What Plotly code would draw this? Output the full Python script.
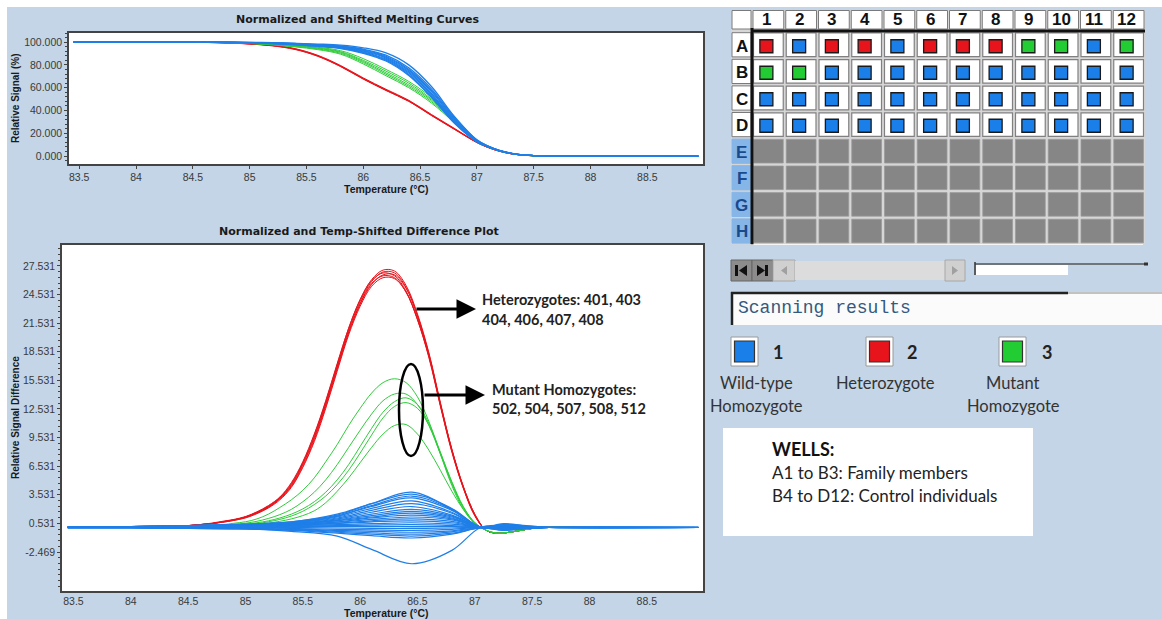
import plotly.graph_objects as go

W, H = 1162, 619
BG = '#c3d5e6'
BLUE = '#1f7fe8'
RED = '#e8141c'
GREEN = '#2ecc3a'


def X(px):
    return px / W


def Y(py):
    return 1 - py / H


# ---------------- data: normalized melting curves (top) ----------------
T_MELT = [83.45, 84.5, 84.8, 85.0, 85.2, 85.4, 85.6, 85.8, 86.0, 86.2, 86.4,
          86.6, 86.8, 87.0, 87.1, 87.2, 87.3, 87.4, 87.5, 87.6]
T_MELT_BLUE = T_MELT + [88.95]

MELT_RED = [
    [100, 99.8, 99.3, 98.5, 97.0, 94.0, 88.0, 79.0, 68.0, 58.0, 48.5, 36.0, 24.0, 12.0, 7.5, 4.2, 2.0, 0.8, 0.2, 0.0],
    [100, 99.8, 99.2, 98.3, 96.7, 93.5, 87.5, 78.5, 67.5, 57.5, 48.0, 35.5, 23.5, 11.8, 7.4, 4.1, 2.0, 0.8, 0.2, 0.0],
    [100, 99.9, 99.4, 98.6, 97.2, 94.3, 88.4, 79.5, 68.6, 58.6, 49.0, 36.5, 24.4, 12.2, 7.6, 4.3, 2.1, 0.8, 0.2, 0.0],
    [100, 99.8, 99.3, 98.4, 96.9, 93.8, 87.8, 78.8, 67.8, 57.8, 48.2, 35.8, 23.8, 11.9, 7.5, 4.2, 2.0, 0.8, 0.2, 0.0],
]
MELT_GREEN = [
    [100, 99.9, 99.7, 99.2, 98.4, 97.2, 95.4, 92.5, 85.5, 76.0, 65.5, 51.5, 33.0, 13.5, 8.2, 4.6, 2.3, 0.9, 0.2, 0.0],
    [100, 99.9, 99.6, 99.1, 98.2, 96.8, 94.9, 91.6, 84.0, 74.5, 64.0, 50.0, 32.0, 13.2, 8.1, 4.5, 2.2, 0.9, 0.2, 0.0],
    [100, 99.9, 99.6, 99.0, 98.0, 96.5, 94.5, 91.0, 83.0, 73.0, 62.5, 49.0, 31.0, 13.0, 8.0, 4.5, 2.2, 0.9, 0.2, 0.0],
    [100, 99.9, 99.5, 98.9, 97.8, 96.2, 94.0, 90.2, 82.0, 71.8, 61.2, 47.8, 30.2, 12.8, 7.9, 4.4, 2.2, 0.9, 0.2, 0.0],
    [100, 99.9, 99.5, 98.8, 97.6, 95.8, 93.4, 89.4, 80.8, 70.5, 60.0, 46.5, 29.5, 12.5, 7.8, 4.4, 2.1, 0.9, 0.2, 0.0],
]
MELT_BLUE = [
    [100, 100, 99.9, 99.8, 99.5, 99.0, 98.3, 97.3, 95.0, 90.5, 80.0, 61.0, 35.0, 14.2, 8.7, 4.9, 2.5, 1.0, 0.4, 0.0, 0.0],
    [100, 100, 99.9, 99.7, 99.3, 98.7, 97.8, 96.6, 93.8, 88.5, 77.5, 59.0, 34.0, 14.0, 8.6, 4.8, 2.4, 1.0, 0.4, 0.0, 0.0],
    [100, 100, 99.9, 99.6, 99.2, 98.5, 97.5, 96.2, 93.2, 87.6, 76.2, 57.6, 33.0, 13.7, 8.5, 4.8, 2.4, 1.0, 0.4, 0.0, 0.0],
    [100, 100, 99.8, 99.6, 99.1, 98.4, 97.3, 95.9, 92.7, 86.9, 75.2, 56.5, 32.2, 13.4, 8.4, 4.7, 2.4, 1.0, 0.4, 0.0, 0.0],
    [100, 100, 99.8, 99.5, 99.0, 98.2, 97.0, 95.5, 92.0, 86.0, 74.0, 55.0, 31.0, 13.0, 8.3, 4.7, 2.4, 1.0, 0.4, 0.0, 0.0],
    [100, 100, 99.8, 99.4, 98.9, 98.0, 96.7, 95.1, 91.4, 85.1, 72.8, 53.8, 30.3, 12.8, 8.2, 4.6, 2.3, 1.0, 0.4, 0.0, 0.0],
    [100, 100, 99.7, 99.4, 98.8, 97.8, 96.4, 94.7, 90.8, 84.2, 71.6, 52.5, 29.6, 12.6, 8.1, 4.6, 2.3, 1.0, 0.4, 0.0, 0.0],
    [100, 100, 99.7, 99.3, 98.7, 97.7, 96.2, 94.3, 90.2, 83.4, 70.6, 51.4, 29.0, 12.4, 8.0, 4.5, 2.3, 1.0, 0.4, 0.0, 0.0],
]

# ---------------- data: difference plot (bottom) ----------------
T_DIFF_RG = [83.45, 84.0, 84.5, 84.6, 84.7, 84.8, 84.9, 85.0, 85.1, 85.2, 85.3, 85.4,
             85.5, 85.6, 85.7, 85.8, 85.9, 86.0, 86.1, 86.2, 86.3, 86.4, 86.5, 86.6,
             86.7, 86.8, 86.9, 87.0, 87.1, 87.2, 87.3, 87.4, 87.5, 87.6, 88.0]
DIFF_RED = [
    [0.1, 0.15, 0.3, 0.4, 0.5, 0.7, 0.9, 1.2, 1.7, 2.3, 3.2, 4.6, 6.8, 9.6, 13.1, 17.0, 20.8, 23.8, 25.9, 26.9, 26.8, 25.3, 22.3, 18.2, 13.0, 8.2, 4.3, 1.4, -0.2, -0.5, -0.4, -0.2, 0.0, 0.1, 0.1],
    [0.1, 0.15, 0.3, 0.4, 0.5, 0.65, 0.85, 1.15, 1.6, 2.2, 3.1, 4.4, 6.5, 9.3, 12.8, 16.7, 20.5, 23.5, 25.6, 26.6, 26.6, 25.2, 22.3, 18.3, 13.1, 8.3, 4.4, 1.5, -0.2, -0.5, -0.4, -0.2, 0.0, 0.1, 0.1],
    [0.1, 0.15, 0.3, 0.4, 0.55, 0.75, 0.95, 1.25, 1.75, 2.4, 3.3, 4.8, 7.0, 9.9, 13.4, 17.3, 21.0, 24.0, 26.0, 26.8, 26.5, 24.9, 21.9, 17.9, 12.8, 8.0, 4.2, 1.3, -0.2, -0.5, -0.4, -0.2, 0.0, 0.1, 0.1],
    [0.1, 0.15, 0.3, 0.4, 0.5, 0.7, 0.9, 1.2, 1.65, 2.25, 3.15, 4.5, 6.7, 9.5, 13.0, 16.9, 20.6, 23.6, 25.7, 26.5, 26.3, 24.8, 21.9, 18.0, 12.9, 8.1, 4.3, 1.4, -0.2, -0.5, -0.4, -0.2, 0.0, 0.1, 0.1],
    [0.1, 0.15, 0.3, 0.4, 0.5, 0.7, 0.9, 1.2, 1.7, 2.35, 3.25, 4.7, 6.9, 9.8, 13.3, 17.2, 21.0, 24.0, 26.1, 27.1, 27.0, 25.5, 22.5, 18.4, 13.2, 8.3, 4.4, 1.5, -0.2, -0.5, -0.4, -0.2, 0.0, 0.1, 0.1],
    [0.1, 0.15, 0.3, 0.4, 0.5, 0.65, 0.85, 1.1, 1.55, 2.15, 3.0, 4.3, 6.4, 9.1, 12.6, 16.5, 20.3, 23.3, 25.4, 26.3, 26.2, 24.8, 22.0, 18.1, 13.0, 8.2, 4.3, 1.4, -0.2, -0.5, -0.4, -0.2, 0.0, 0.1, 0.1],
]
DIFF_GREEN = [
    [0.1, 0.15, 0.25, 0.3, 0.35, 0.4, 0.55, 0.7, 1.0, 1.5, 2.2, 3.0, 4.0, 5.3, 7.0, 8.8, 10.8, 12.6, 14.2, 15.3, 15.7, 15.3, 13.8, 11.2, 7.8, 4.5, 2.0, 0.5, -0.2, -0.5, -0.4, -0.2, 0.0, 0.1, 0.1],
    [0.1, 0.15, 0.2, 0.25, 0.3, 0.35, 0.45, 0.55, 0.75, 1.05, 1.45, 2.0, 2.8, 3.8, 5.1, 6.7, 8.5, 10.3, 12.0, 13.4, 14.1, 14.1, 13.0, 10.8, 7.8, 4.7, 2.2, 0.6, -0.2, -0.5, -0.4, -0.2, 0.0, 0.1, 0.1],
    [0.1, 0.15, 0.2, 0.25, 0.28, 0.32, 0.38, 0.45, 0.6, 0.8, 1.1, 1.5, 2.05, 2.8, 3.8, 5.1, 6.7, 8.6, 10.5, 12.2, 13.3, 13.7, 13.0, 11.0, 8.0, 4.8, 2.2, 0.6, -0.2, -0.5, -0.4, -0.2, 0.0, 0.1, 0.1],
    [0.1, 0.15, 0.2, 0.25, 0.28, 0.3, 0.35, 0.4, 0.5, 0.7, 0.95, 1.3, 1.8, 2.5, 3.4, 4.6, 6.1, 7.9, 9.8, 11.6, 12.8, 13.2, 12.6, 10.8, 7.9, 4.9, 2.3, 0.6, -0.2, -0.5, -0.4, -0.2, 0.0, 0.1, 0.1],
    [0.1, 0.15, 0.2, 0.22, 0.24, 0.26, 0.28, 0.3, 0.4, 0.55, 0.75, 1.0, 1.35, 1.85, 2.7, 3.9, 5.3, 6.9, 8.5, 9.9, 10.8, 10.9, 9.9, 8.2, 6.1, 3.9, 2.0, 0.6, -0.2, -0.5, -0.4, -0.2, 0.0, 0.1, 0.1],
]
T_DIFF_BLUE = [83.45, 84.0, 84.5, 85.0, 85.4, 85.8, 86.1, 86.45, 86.8, 87.05, 87.25, 87.45, 87.65, 88.95]
DIFF_BLUE = [
    [0.2, 0.2, 0.3, 0.45, 0.7, 1.4, 2.6, 3.8, 2.0, 0.15, 0.5, 0.3, 0.15, 0.15],
    [0.15, 0.2, 0.3, 0.45, 0.7, 1.5, 2.6, 3.6, 2.1, 0.15, 0.45, 0.25, 0.15, 0.15],
    [0.15, 0.2, 0.3, 0.4, 0.65, 1.3, 2.4, 3.4, 2.0, 0.15, 0.4, 0.25, 0.1, 0.1],
    [0.2, 0.2, 0.3, 0.4, 0.6, 1.3, 2.3, 3.2, 1.9, 0.15, 0.4, 0.2, 0.1, 0.1],
    [0.2, 0.2, 0.3, 0.4, 0.6, 1.2, 2.1, 2.9, 1.7, 0.15, 0.35, 0.2, 0.1, 0.1],
    [0.15, 0.2, 0.25, 0.35, 0.55, 1.1, 1.9, 2.6, 1.6, 0.15, 0.3, 0.2, 0.1, 0.1],
    [0.15, 0.2, 0.25, 0.35, 0.5, 1.0, 1.7, 2.3, 1.4, 0.15, 0.3, 0.15, 0.1, 0.1],
    [0.1, 0.15, 0.2, 0.3, 0.5, 0.9, 1.5, 2.0, 1.3, 0.15, 0.25, 0.15, 0.1, 0.1],
    [0.1, 0.15, 0.2, 0.3, 0.45, 0.85, 1.35, 1.8, 1.2, 0.15, 0.25, 0.15, 0.1, 0.1],
    [0.15, 0.2, 0.25, 0.3, 0.45, 0.8, 1.2, 1.6, 1.1, 0.15, 0.2, 0.1, 0.1, 0.1],
    [0.15, 0.2, 0.2, 0.3, 0.4, 0.7, 1.1, 1.4, 1.0, 0.15, 0.2, 0.1, 0.1, 0.1],
    [0.1, 0.15, 0.2, 0.3, 0.4, 0.65, 0.95, 1.2, 0.9, 0.15, 0.15, 0.1, 0.1, 0.1],
    [0.1, 0.15, 0.2, 0.25, 0.35, 0.55, 0.8, 1.0, 0.75, 0.15, 0.15, 0.1, 0.1, 0.1],
    [0.1, 0.15, 0.2, 0.25, 0.35, 0.5, 0.7, 0.8, 0.6, 0.15, 0.1, 0.1, 0.1, 0.1],
    [0.1, 0.1, 0.15, 0.2, 0.3, 0.4, 0.5, 0.6, 0.45, 0.15, 0.05, 0.1, 0.1, 0.1],
    [0.1, 0.1, 0.15, 0.2, 0.25, 0.3, 0.35, 0.4, 0.3, 0.15, 0.0, 0.05, 0.1, 0.1],
    [0.15, 0.15, 0.2, 0.2, 0.2, 0.2, 0.2, 0.2, 0.2, 0.15, 0.0, 0.05, 0.1, 0.1],
    [0.1, 0.1, 0.1, 0.1, 0.1, 0.05, 0.0, 0.0, 0.05, 0.1, -0.05, 0.05, 0.1, 0.1],
    [0.1, 0.1, 0.1, 0.05, 0.0, -0.1, -0.15, -0.2, -0.1, 0.1, -0.1, 0.0, 0.1, 0.1],
    [0.1, 0.1, 0.05, 0.0, -0.05, -0.2, -0.3, -0.4, -0.25, 0.1, -0.1, 0.0, 0.1, 0.1],
    [0.1, 0.1, 0.05, 0.0, -0.1, -0.3, -0.45, -0.6, -0.35, 0.05, -0.15, 0.0, 0.1, 0.1],
    [0.05, 0.05, 0.0, -0.05, -0.15, -0.4, -0.6, -0.8, -0.5, 0.05, -0.15, 0.0, 0.1, 0.1],
    [0.05, 0.05, 0.0, -0.05, -0.2, -0.5, -0.75, -1.0, -0.6, 0.05, -0.2, 0.0, 0.1, 0.1],
    [0.05, 0.05, 0.0, -0.05, -0.3, -0.8, -2.2, -3.7, -2.3, 0.1, 0.3, 0.1, 0.1, 0.1],
]

X_TICKS = [83.5, 84, 84.5, 85, 85.5, 86, 86.5, 87, 87.5, 88, 88.5]
X_TICK_LABELS = ['83.5', '84', '84.5', '85', '85.5', '86', '86.5', '87', '87.5', '88', '88.5']
Y1_TICKS = [0, 20, 40, 60, 80, 100]
Y1_TICK_LABELS = ['0.000', '20.000', '40.000', '60.000', '80.000', '100.000']
Y2_TICKS = [-2.469, 0.531, 3.531, 6.531, 9.531, 12.531, 15.531, 18.531, 21.531, 24.531, 27.531]
Y2_TICK_LABELS = ['-2.469', '0.531', '3.531', '6.531', '9.531', '12.531', '15.531',
                  '18.531', '21.531', '24.531', '27.531']

# ---------------- data: plate ----------------
PLATE_ROWS = ['A', 'B', 'C', 'D', 'E', 'F', 'G', 'H']
PLATE_COLS = ['1', '2', '3', '4', '5', '6', '7', '8', '9', '10', '11', '12']
WELL_CALLS = {
    'A': [2, 1, 2, 2, 1, 2, 2, 2, 3, 3, 1, 3],
    'B': [3, 3, 1, 1, 1, 1, 1, 1, 1, 1, 1, 1],
    'C': [1, 1, 1, 1, 1, 1, 1, 1, 1, 1, 1, 1],
    'D': [1, 1, 1, 1, 1, 1, 1, 1, 1, 1, 1, 1],
}
GENO_IDS = [1, 2, 3]
GENO_COLORS = {1: '#1a7fe8', 2: '#e8141c', 3: '#22cc33'}
GENO_NAMES = [['Wild-type', 'Homozygote'], ['Heterozygote'], ['Mutant', 'Homozygote']]

fig = go.Figure()

# top plot traces
for ys in MELT_RED:
    fig.add_trace(go.Scatter(x=T_MELT, y=ys, mode='lines', xaxis='x', yaxis='y',
                             line=dict(color=RED, width=1, shape='spline')))
for ys in MELT_GREEN:
    fig.add_trace(go.Scatter(x=T_MELT, y=ys, mode='lines', xaxis='x', yaxis='y',
                             line=dict(color=GREEN, width=1, shape='spline')))
for ys in MELT_BLUE:
    fig.add_trace(go.Scatter(x=T_MELT_BLUE, y=ys, mode='lines', xaxis='x', yaxis='y',
                             line=dict(color=BLUE, width=1.3, shape='spline')))

# bottom plot traces
for ys in DIFF_RED:
    fig.add_trace(go.Scatter(x=T_DIFF_RG, y=ys, mode='lines', xaxis='x2', yaxis='y2',
                             line=dict(color=RED, width=1, shape='spline')))
for ys in DIFF_GREEN:
    fig.add_trace(go.Scatter(x=T_DIFF_RG, y=ys, mode='lines', xaxis='x2', yaxis='y2',
                             line=dict(color=GREEN, width=1, shape='spline')))
for ys in DIFF_BLUE:
    fig.add_trace(go.Scatter(x=T_DIFF_BLUE, y=ys, mode='lines', xaxis='x2', yaxis='y2',
                             line=dict(color=BLUE, width=1.2, shape='spline')))

# plate wells
wx, wy, wc = [], [], []
for ri, row in enumerate(PLATE_ROWS):
    calls = WELL_CALLS.get(row)
    if calls is None:
        continue
    for ci, call in enumerate(calls):
        wx.append(ci + 1)
        wy.append(ri)
        wc.append(GENO_COLORS[call])
fig.add_trace(go.Scatter(x=wx, y=wy, mode='markers', xaxis='x3', yaxis='y3',
                         marker=dict(symbol='square', size=13, color=wc,
                                     line=dict(color='#1a1a1a', width=1.3))))

# ---------------- decorations ----------------
shapes = []


def rect(x0, y0, x1, y1, fill, line_color=None, lw=0, layer='below'):
    shapes.append(dict(type='rect', xref='paper', yref='paper', x0=X(x0), x1=X(x1),
                       y0=Y(y1), y1=Y(y0), fillcolor=fill, layer=layer,
                       line=dict(color=line_color or fill, width=lw)))


def seg(x0, y0, x1, y1, color, lw, layer='above'):
    shapes.append(dict(type='line', xref='paper', yref='paper', x0=X(x0), x1=X(x1),
                       y0=Y(y0), y1=Y(y1), line=dict(color=color, width=lw), layer=layer))


def poly(pts, fill, layer='above'):
    path = 'M ' + ' L '.join(f'{X(a):.5f},{Y(b):.5f}' for a, b in pts) + ' Z'
    shapes.append(dict(type='path', xref='paper', yref='paper', path=path,
                       fillcolor=fill, line=dict(color=fill, width=0), layer=layer))


# white outer strips
rect(0, 0, W, 7, 'white')
rect(0, 0, 7, H, 'white')

# plate grid
CX0, CW = 752, 32.75
RY0, RH = 31.5, 26.6
rect(731, 10, CX0 + 12 * CW, RY0 + 8 * RH, '#d6d6d6')
rect(732, 10.5, 751, 29, 'white', '#7a7a7a', 1)
for ci in range(12):
    x0 = CX0 + ci * CW
    rect(x0 + 1, 10.5, x0 + CW - 1, 29, 'white', '#7a7a7a', 1)
for ri, row in enumerate(PLATE_ROWS):
    y0 = RY0 + ri * RH
    filled = row in WELL_CALLS
    rect(732, y0 + 1.2, 751, y0 + RH - 1.2, 'white' if filled else '#86b6e8',
         '#7a7a7a' if filled else '#86b6e8', 1)
    for ci in range(12):
        x0 = CX0 + ci * CW
        if filled:
            rect(x0 + 1.5, y0 + 1.5, x0 + CW - 1.5, y0 + RH - 1.5, 'white', '#808080', 1.2)
        else:
            rect(x0 + 1.5, y0 + 1.5, x0 + CW - 1.5, y0 + RH - 1.5, '#868686', '#9a9a9a', 0.8)
seg(CX0, 28, CX0, RY0 + 8 * RH, '#111111', 3)
seg(CX0, 31, CX0 + 12 * CW, 31, '#111111', 3)

# scrollbar
rect(731, 260, 752, 281, '#8c8c8c', '#666666', 1)
rect(752, 260, 773, 281, '#8c8c8c', '#666666', 1)
rect(735, 265, 738, 276, '#111111', layer='above')
poly([(739, 270.5), (747, 265), (747, 276)], '#111111')
rect(765, 265, 768, 276, '#111111', layer='above')
poly([(757, 265), (757, 276), (765, 270.5)], '#111111')
rect(773, 260, 795, 281, '#d0d0d0', '#a8a8a8', 1)
poly([(781, 270.5), (787, 266), (787, 275)], '#a0a0a0')
rect(795, 261, 945, 280, '#dcdcdc')
rect(945, 260, 965, 281, '#d0d0d0', '#a8a8a8', 1)
poly([(952, 266), (952, 275), (958, 270.5)], '#a0a0a0')
seg(975, 264, 1146, 264, '#555555', 1.5)
rect(976, 265, 1068, 275, 'white')
seg(975, 262, 975, 275, '#333333', 1.5)
seg(1144, 264, 1148, 264, '#333333', 3)

# scanning results box
rect(731, 292, W, 325, '#fbfbfb')
seg(731, 293, 1068, 293, '#222222', 2.5)
seg(1068, 293, W, 293, '#8a8a8a', 1.2)
seg(732, 292, 732, 325, '#222222', 2.5)

# genotype legend boxes
LEG_BOX_X = [731, 866, 999]
for gx, gid in zip(LEG_BOX_X, GENO_IDS):
    rect(gx, 337, gx + 27, 366, 'white', '#9a9a9a', 1)
    rect(gx + 3.5, 341, gx + 23.5, 362, GENO_COLORS[gid], '#333333', 1.2)

# wells box
rect(723, 428, 1033, 536, 'white')

# ellipse around mutant homozygote peaks
shapes.append(dict(type='circle', xref='paper', yref='paper', x0=X(399), x1=X(423),
                   y0=Y(456), y1=Y(364), line=dict(color='black', width=2.5), layer='above'))

annotations = []


def txt(text, px, py, size=12, family='Lato', color='#222222', xanchor='center',
        yanchor='middle', angle=0, xref='paper', yref='paper', xv=None, yv=None):
    annotations.append(dict(text=text, x=xv if xv is not None else X(px),
                            y=yv if yv is not None else Y(py), xref=xref, yref=yref,
                            showarrow=False, xanchor=xanchor, yanchor=yanchor,
                            textangle=angle, font=dict(size=size, family=family, color=color)))


TITLE_FONT = 'DejaVu Sans'
txt('<b>Normalized and Shifted Melting Curves</b>', 358, 20, 11, TITLE_FONT, '#1a1a1a')
txt('<b>Normalized and Temp-Shifted Difference Plot</b>', 359, 232, 11, TITLE_FONT, '#1a1a1a')
txt('<b>Relative Signal (%)</b>', 15, 99, 10, 'Liberation Sans', '#1a1a1a', angle=-90)
txt('<b>Relative Signal Difference</b>', 15, 418, 10, 'Liberation Sans', '#1a1a1a', angle=-90)
txt('<b>Temperature (°C)</b>', 386, 189, 10.5, 'Liberation Sans', '#1a1a1a')
txt('<b>Temperature (°C)</b>', 386, 613, 10.5, 'Liberation Sans', '#1a1a1a')

# plate labels
for ci, lab in enumerate(PLATE_COLS):
    txt('<b>' + lab + '</b>', 0, 20, 17, 'Liberation Sans', '#111111', xref='x3', xv=ci + 1)
for ri, lab in enumerate(PLATE_ROWS):
    col = '#111111' if lab in WELL_CALLS else '#1b4a8c'
    txt('<b>' + lab + '</b>', 741.5, 0, 17, 'Liberation Sans', col, yref='y3', yv=ri)

txt('Scanning results', 736, 308.5, 18, 'Liberation Mono', '#34597f', xanchor='left')

# genotype legend text
LEG_NUM_X = [778, 912, 1047]
LEG_NAME_X = [756, 886, 1013]
for nx, mx, gid, names in zip(LEG_NUM_X, LEG_NAME_X, GENO_IDS, GENO_NAMES):
    txt('<b>' + str(gid) + '</b>', nx, 352, 18, 'Lato', '#222222')
    for li, name in enumerate(names):
        txt(name, mx, 383 + li * 23, 16.5, 'Lato', '#333333')

txt('<b>WELLS:</b>', 770, 449, 18, 'Lato', '#111111', xanchor='left')
txt('A1 to B3: Family members', 770, 472, 17, 'Lato', '#222222', xanchor='left')
txt('B4 to D12: Control individuals', 770, 495, 17, 'Lato', '#222222', xanchor='left')

# callouts
txt('<b>Heterozygotes: 401, 403</b>', 480, 299, 14.5, 'Lato', '#222222', xanchor='left')
txt('<b>404, 406, 407, 408</b>', 480, 319, 14.5, 'Lato', '#222222', xanchor='left')
txt('<b>Mutant Homozygotes:</b>', 490, 389, 14.5, 'Lato', '#222222', xanchor='left')
txt('<b>502, 504, 507, 508, 512</b>', 490, 408, 14.5, 'Lato', '#222222', xanchor='left')
for (x0, x1, yy) in [(415, 476, 309), (423, 485, 395)]:
    annotations.append(dict(text='', x=X(x1), y=Y(yy), xref='paper', yref='paper',
                            ax=-(x1 - x0), ay=0, axref='pixel', ayref='pixel',
                            showarrow=True, arrowhead=2, arrowsize=1.3, arrowwidth=3,
                            arrowcolor='black', standoff=0))

TICKFONT = dict(family='Liberation Sans', size=10.5, color='#3a3a3a')
axis_common = dict(showline=True, mirror=True, linecolor='#444444', linewidth=1.5,
                   ticks='outside', ticklen=3, tickcolor='#444444', showgrid=False,
                   zeroline=False, tickfont=TICKFONT)
xaxis2_common = dict(axis_common)
xaxis2_common['ticks'] = ''

fig.update_layout(
    width=W, height=H, margin=dict(l=0, r=0, t=0, b=0),
    paper_bgcolor=BG, plot_bgcolor='white', showlegend=False, hovermode=False,
    xaxis=dict(domain=[X(69), X(703)], range=[83.41, 88.99], anchor='y',
               tickmode='array', tickvals=X_TICKS, ticktext=X_TICK_LABELS, **axis_common),
    yaxis=dict(domain=[Y(164), Y(33)], range=[-7, 108], anchor='x',
               tickmode='array', tickvals=Y1_TICKS, ticktext=Y1_TICK_LABELS,
               minor=dict(tickmode='linear', tick0=0, dtick=4, ticks='outside', ticklen=2,
                          tickcolor='#444444'), **axis_common),
    xaxis2=dict(domain=[X(62), X(703)], range=[83.40, 88.99], anchor='y2',
                tickmode='array', tickvals=X_TICKS, ticktext=X_TICK_LABELS, **xaxis2_common),
    yaxis2=dict(domain=[Y(591), Y(245)], range=[-6.56, 29.73], anchor='x2',
                tickmode='array', tickvals=Y2_TICKS, ticktext=Y2_TICK_LABELS,
                minor=dict(tickmode='linear', tick0=-2.469, dtick=0.6, ticks='outside',
                           ticklen=2, tickcolor='#444444'), **axis_common),
    xaxis3=dict(domain=[X(750), X(1143)], range=[0.5, 12.5], anchor='y3', visible=False),
    yaxis3=dict(domain=[Y(245), Y(33)], range=[7.5, -0.5], anchor='x3', visible=False),
    shapes=shapes, annotations=annotations,
)

fig.write_html('out.html')
